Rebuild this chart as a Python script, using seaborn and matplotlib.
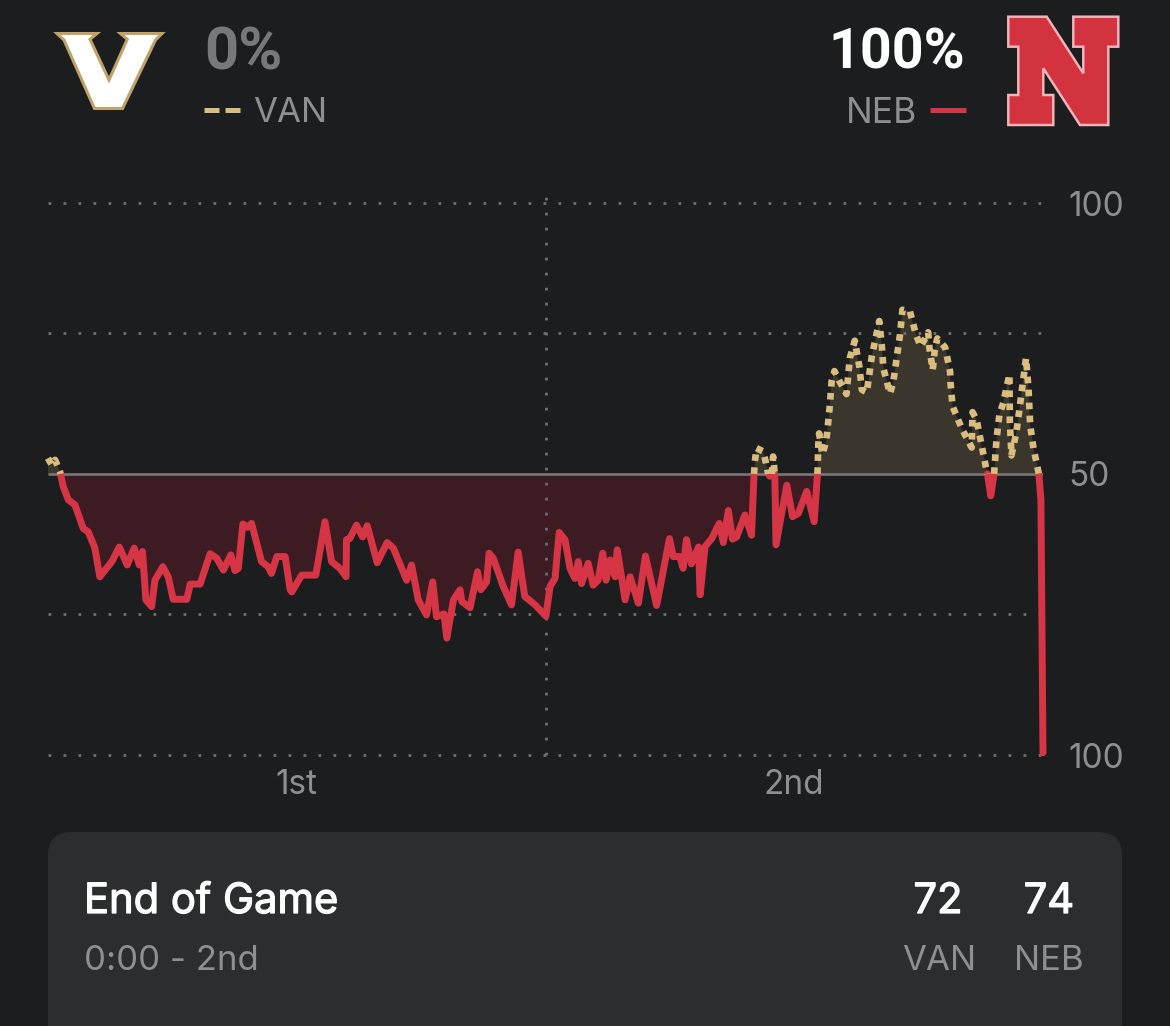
import numpy as np
import pandas as pd
import matplotlib
matplotlib.use("Agg")
import matplotlib.pyplot as plt
import matplotlib.patheffects as pe
from matplotlib.patches import Polygon, FancyBboxPatch
from matplotlib.lines import Line2D
import seaborn as sns

# game clock in seconds elapsed, and Vanderbilt win probability in percent
seconds = [0,9,17,29,30,37,49,65,85,97,113,125,154,172,191,208,220,228,236,250,258,277,290,302,335,343,367,391,407,423,441,451,459,470,481,491,515,531,539,552,572,584,
 588,612,646,668,684,704,719,720,728,744,759,770,794,818,833,865,877,893,913,928,937,955,962,978,994,998,1018,1036,1044,1058,1064,1074,1098,1118,1134,1150,1175,1201,
 1211,1223,1233,1247,1259,1271,1279,1287,1303,1315,1327,1338,1346,1356,1368,1373,1392,1404,1424,1441,1468,1499,1508,1524,1532,1540,1552,1569,1573,1585,1601,1619,1629,1641,1651,1661,1681,1697,
 1703,1705,1709,1725,1732,1737,1741,1746,1749,1753,1756,1782,1796,1810,1830,1848,1856,
 1858,1860,1868,1877,1880,1886,1890,1897,1909,1926,1934,1946,1957,1963,1975,1987,2005,2011,2015,2031,2039,2047,2055,2061,2079,2094,2105,2118,2123,2126,2134,2139,2145,2164,2176,2177,2182,2204,2228,2230,2240,2262,2266,2274,2282,2288,2295,2304,2319,2320,2324,2336,2344,2359,2365,2369,2377,2390,2395,2400]
van_pct = [52.8,51.6,52.5,50.4,50,47.7,45.4,44.5,40.3,39.7,36.8,31.7,34.4,37.0,33.8,36.8,33.8,36.2,27.6,26.4,31.1,33.5,31.7,27.7,27.7,30.4,30.4,35.8,35.0,32.9,35.6,32.8,33.2,41.1,40.5,41.2,34.4,33.5,32.3,35.3,35.3,29.4,
 29.0,32.0,32.0,41.5,34.4,33.2,31.7,38.3,38.5,40.9,38.8,40.8,34.2,37.8,36.8,31.1,33.8,27.6,24.9,30.8,24.6,25.1,20.8,27.6,29.4,27.3,26.2,32.6,29.4,30.8,35.9,35.0,30.0,26.7,36.1,28.2,26.7,24.7,
 30.0,31.4,39.6,38.3,33.2,31.4,34.4,30.5,34.1,30.2,31.1,35.9,31.1,34.7,31.7,36.5,27.6,31.7,27.0,35.4,26.6,38.5,35.3,35.3,33.2,38.3,34.0,37.0,28.5,37.1,38.5,41.2,37.8,43.5,38.4,38.8,42.7,39.1,
 50,52.2,54.6,54.0,51.9,50,49.6,50,53.1,50,37.4,48.0,42.4,43.0,46.9,41.5,50,
 55.2,57.2,53.5,55.8,57.8,62.3,66.4,68.3,66.5,64.2,70.6,73.7,69.1,65.0,64.5,70.9,77.2,73.0,68.8,64.3,66.4,70.6,74.7,79.2,78.9,74.7,72.7,74.4,75.2,72.4,68.5,72.1,74.1,72.5,68.2,66.1,62.0,58.1,54.7,61.0,59.6,51.3,50,46.1,50,56.3,60.6,62.6,67.7,59.3,53.3,57.5,62.0,70.6,65.2,58.7,54.6,50,45.4,0.4]

period_labels = ["1st", "2nd"]
period_centers = [600, 1800]
teams = ["VAN", "NEB"]
team_pct = ["0%", "100%"]
scores = ["72", "74"]
status = "End of Game"
clock = "0:00 - 2nd"

BG = "#1c1d1f"
CARD = "#2c2d2f"
RED = "#d63545"
TAN = "#d9bc7f"
GREY = "#8e8f91"
DOT = "#6e6f71"
BODY = ["Inter", "DejaVu Sans"]

sns.set_theme(style="dark", rc={"figure.facecolor": BG, "savefig.facecolor": BG})
plt.rcParams["font.family"] = ["Roboto", "DejaVu Sans"]

W, H = 1170, 1026
fig = plt.figure(figsize=(W / 100, H / 100), dpi=100)

# overlay in image pixels for header logos, legend keys and the card
ov = fig.add_axes([0, 0, 1, 1], facecolor="none")
ov.set_xlim(0, W)
ov.set_ylim(H, 0)
ov.axis("off")

# main chart
L, R, T, B = 48, 1043, 203, 755
ax = fig.add_axes([L / W, 1 - B / H, (R - L) / W, (B - T) / H], facecolor="none")

df = pd.DataFrame({"sec": seconds, "pct": van_pct})
TOP = 98.2  # the top gridline sits slightly below a linear 100

ax.fill_between(df.sec, 50, df.pct, where=df.pct <= 50, color="#3c1c22", lw=0, zorder=1)
ax.fill_between(df.sec, 50, df.pct, where=df.pct >= 50, color="#3b362b", lw=0, zorder=1)

dotted = [(0, (1, 4.4))]
for v in [0, 25, 75, TOP]:
    ax.hlines(v, 0, 2400, color=DOT, lw=2.0, linestyles=dotted, clip_on=False, zorder=1.5)
ax.vlines(1200, 0, TOP + 1.4, color=DOT, lw=2.0, linestyles=dotted, clip_on=False, zorder=1.5)
ax.hlines(50, 0, 2400, color="#7b7677", lw=1.9, zorder=2)

# split into runs above/below the 50 line; crossing points belong to both
p = df.pct.to_numpy()
run = 0
rows = []
cur = "VAN" if p[0] >= 50 else "NEB"
for i in range(len(p)):
    if (cur == "VAN" and p[i] < 50) or (cur == "NEB" and p[i] > 50):
        rows.append((df.sec[i - 1], p[i - 1], cur, run))
        run += 1
        cur = "NEB" if cur == "VAN" else "VAN"
        rows.append((df.sec[i - 1], p[i - 1], cur, run))
    rows.append((df.sec[i], p[i], cur, run))
runs = pd.DataFrame(rows, columns=["sec", "pct", "side", "run"])

sns.lineplot(data=runs[runs.side == "NEB"], x="sec", y="pct", units="run", estimator=None,
             sort=False, errorbar=None, color=RED, lw=5.0, solid_joinstyle="round",
             solid_capstyle="round", ax=ax, zorder=3, clip_on=False)
sns.lineplot(data=runs[runs.side == "VAN"], x="sec", y="pct", units="run", estimator=None,
             sort=False, errorbar=None, color=TAN, lw=4.8, linestyle=(0, (1, 0.95)),
             dash_capstyle="butt", dash_joinstyle="round", ax=ax, zorder=4, clip_on=False)

ax.set_xlim(0, 2400)
ax.set_ylim(0, TOP)
ax.set_xticks(period_centers, period_labels, fontfamily=BODY)
ax.set_yticks([0, 50, TOP], ["100", "50", "100"], fontfamily=BODY)
ax.yaxis.tick_right()
ax.tick_params(axis="x", length=0, pad=10, labelsize=24, labelcolor=GREY)
ax.tick_params(axis="y", length=0, pad=18, labelsize=24, labelcolor=GREY)
ax.set_xlabel("")
ax.set_ylabel("")
ax.grid(False)
for s in ax.spines.values():
    s.set_visible(False)
leg = ax.get_legend()
if leg:
    leg.remove()

# header text
ov.text(204, 48, team_pct[0], color="#77787a", fontsize=43, fontweight="bold", ha="left", va="center_baseline")
ov.text(965, 48, team_pct[1], color="white", fontsize=40, fontweight="bold", ha="right", va="center_baseline")
ov.text(253, 110, teams[0], color=GREY, fontsize=25, family=BODY, ha="left", va="center_baseline")
ov.text(917, 110, teams[1], color=GREY, fontsize=25.5, family=BODY, ha="right", va="center_baseline")
ov.add_line(Line2D([204, 240], [110, 110], color=TAN, lw=3.6, linestyle=(0, (3, 1.2)), dash_capstyle="butt"))
ov.add_line(Line2D([930, 966], [110, 110], color=RED, lw=3.6, solid_capstyle="butt"))

# logos
v_outline = [(57, 33.5), (97, 33.5), (90, 39.3), (109, 80), (127.3, 39.3), (120.5, 33.5), (162, 33.5),
             (155.5, 40), (122.5, 108.5), (94.5, 108.5), (64, 40)]
ov.add_patch(Polygon(v_outline, closed=True, facecolor="white", edgecolor="#bfa36b", lw=2.2, joinstyle="miter"))
n_outline = [(1008.3, 16.7), (1046.7, 16.7), (1083.3, 73.3), (1083.3, 46.7), (1073.3, 46.7), (1073.3, 16.7),
             (1118.3, 16.7), (1118.3, 46.7), (1108.3, 46.7), (1108.3, 125), (1080, 125), (1043.3, 68.3),
             (1043.3, 95), (1053.3, 95), (1053.3, 125), (1008.3, 125), (1008.3, 95), (1018.3, 95),
             (1018.3, 46.7), (1008.3, 46.7)]
ov.add_patch(Polygon(n_outline, closed=True, facecolor="#d3323f", edgecolor="#efb4b9", lw=1.8, joinstyle="miter"))

# card
ov.add_patch(FancyBboxPatch((48, 832), 1074, 300, boxstyle="round,pad=0,rounding_size=24",
                            facecolor=CARD, edgecolor="none", lw=0))
heavy = [pe.withStroke(linewidth=0.9, foreground="white")]
ov.text(84, 898, status, color="white", fontsize=30, family=BODY, ha="left", va="center_baseline", path_effects=heavy)
ov.text(84, 958, clock, color=GREY, fontsize=25, family=BODY, ha="left", va="center_baseline")
ov.text(938, 898, scores[0], color="white", fontsize=30, family=BODY, ha="center", va="center_baseline", path_effects=heavy)
ov.text(1049, 898, scores[1], color="white", fontsize=30, family=BODY, ha="center", va="center_baseline", path_effects=heavy)
ov.text(939, 958, teams[0], color=GREY, fontsize=25, family=BODY, ha="center", va="center_baseline")
ov.text(1049, 958, teams[1], color=GREY, fontsize=25, family=BODY, ha="center", va="center_baseline")

fig.savefig("out.png", dpi=100)
